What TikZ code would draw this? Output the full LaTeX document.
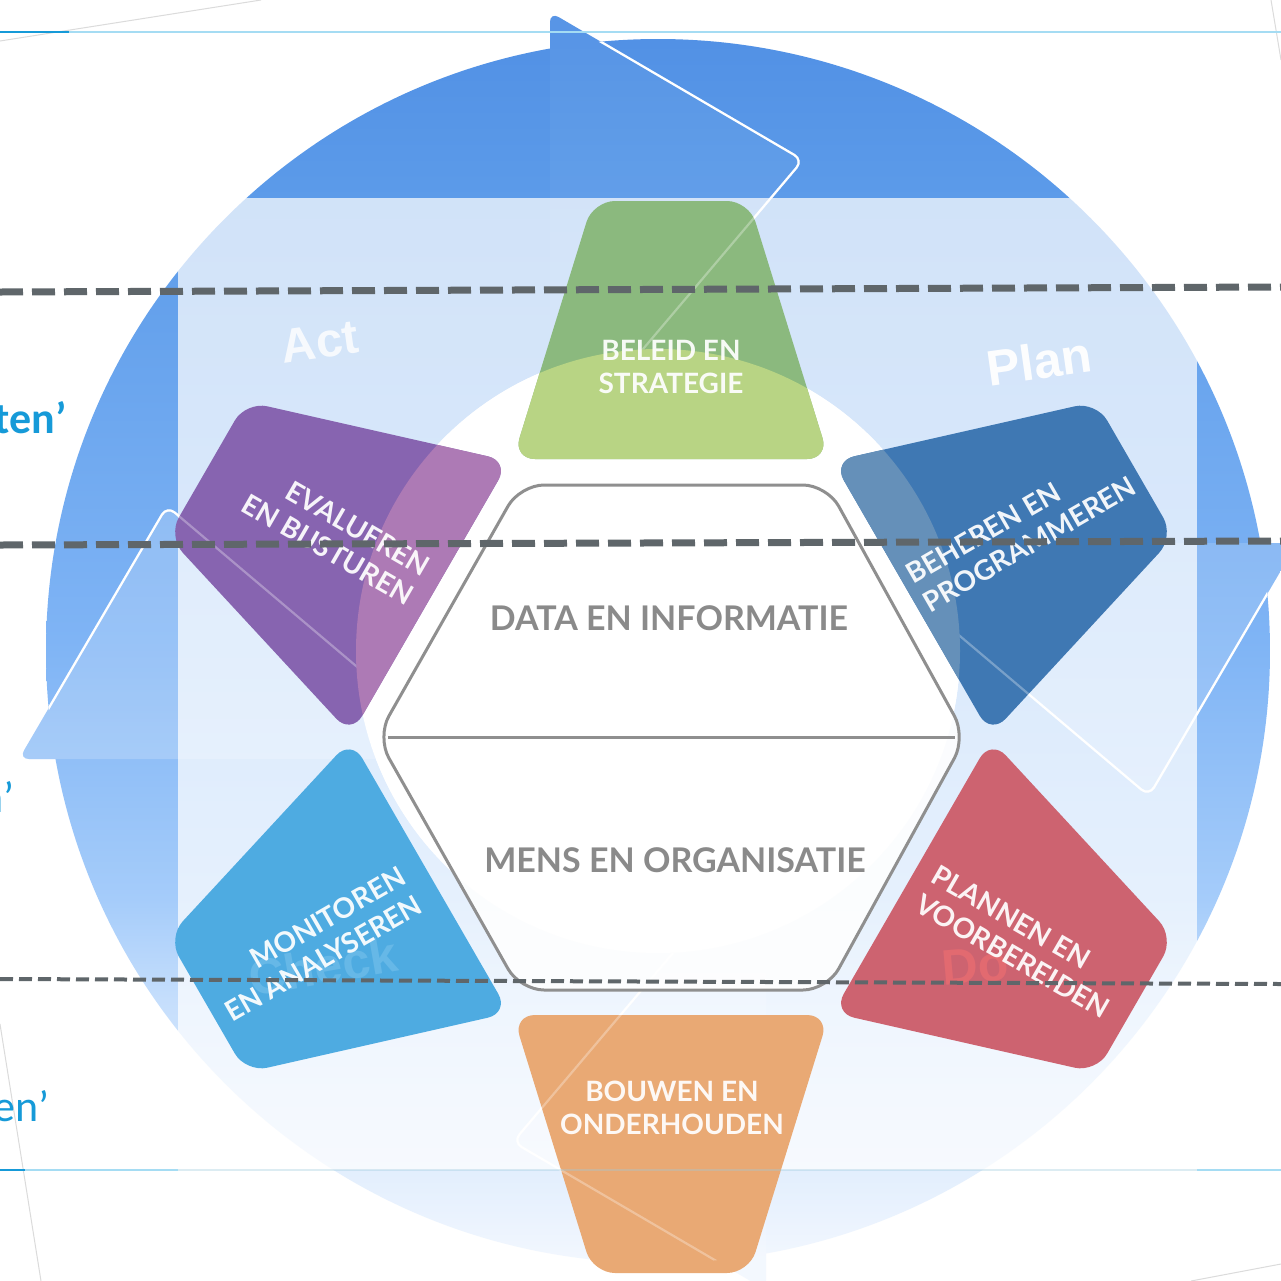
\documentclass[tikz,border=0pt]{standalone}
\usepackage{fontspec}
\setmainfont{Lato}
\newfontfamily\arialf{Liberation Sans}
\newfontfamily\calibf{Carlito}
\usetikzlibrary{calc}
\definecolor{r1}{RGB}{82,145,229}
\definecolor{r2}{RGB}{92,155,233}
\definecolor{r3}{RGB}{127,180,245}
\definecolor{r4}{RGB}{165,204,250}
\definecolor{r5}{RGB}{197,222,252}
\definecolor{r6}{RGB}{242,247,254}
\pgfdeclareverticalshading{ringshade}{100bp}{color(0bp)=(r6); color(25.8bp)=(r6); color(36bp)=(r5); color(39.9bp)=(r4); color(50bp)=(r3); color(67.2bp)=(r2); color(73.4bp)=(r1); color(100bp)=(r1)}
\definecolor{gdark}{RGB}{139,185,126}
\definecolor{glight}{RGB}{184,212,132}
\definecolor{bdark}{RGB}{63,120,179}
\definecolor{blight}{RGB}{101,144,185}
\definecolor{pdark}{RGB}{135,100,176}
\definecolor{plight}{RGB}{173,122,181}
\definecolor{pred}{RGB}{205,99,112}
\definecolor{porange}{RGB}{233,169,116}
\definecolor{plblue}{RGB}{78,171,225}
\definecolor{hexgray}{RGB}{138,138,138}
\definecolor{hexline}{RGB}{143,143,143}
\definecolor{dashgray}{RGB}{95,102,106}
\definecolor{sideblue}{RGB}{22,154,216}
\definecolor{lineblue}{RGB}{165,220,243}
\definecolor{checkc}{RGB}{102,184,231}
\definecolor{doc}{RGB}{226,106,112}
\newcommand\petal[3]{%
\begin{scope}[rotate around={#1:(671,737)}]
  \begin{scope}[rounded corners=11pt]
    \clip (593,201) -- (749,201) -- (829,459) -- (513,459) -- cycle;
    \fill[#2, sharp corners] (480,180) rectangle (860,480);
    \fill[#3, rotate around={0-(#1):(671,737)}] (658,651) circle[radius=302];
  \end{scope}
\end{scope}}
\newcommand\ringclip{\clip (658,651) circle[radius=612] (658,651) circle[radius=302];}
\newcommand\arrowoutlines{%
  \draw[arrowline] (550,12) -- (803,160) -- (550,459);
  \draw[arrowline] (1297,543) -- (1149,796) -- (850,543);
  \draw[arrowline] (766,1290) -- (513,1142) -- (766,843);
  \draw[arrowline] (19,759) -- (167,506) -- (466,759);}
\begin{document}
\begin{tikzpicture}[x=0.5pt,y=-0.5pt,
  lbl/.style={text=white, text opacity=0.93, font=\bfseries\fontsize{14}{16.5}\selectfont, inner sep=0pt},
  hexlbl/.style={text=hexgray, font=\bfseries\fontsize{17}{20}\selectfont, inner sep=0pt},
  pdca/.style={font=\arialf\bfseries\fontsize{24}{24}\selectfont, inner sep=0pt},
  sidelbl/.style={text=sideblue, inner sep=0pt, anchor=base east},
  dashthick/.style={draw=dashgray, line width=3.5pt, dash pattern=on 11.5pt off 4.5pt},
  dashthin/.style={draw=dashgray, line width=2pt, dash pattern=on 6.5pt off 3pt},
  arrowline/.style={draw=white, line width=1.1pt, rounded corners=5pt},
  faintline/.style={draw=black!14, line width=0.5pt}]

\useasboundingbox (0,0) rectangle (1281,1281);
\clip (0,0) rectangle (1281,1281);
\fill[white] (0,0) rectangle (1281,1281);

% faint frame edges
\coordinate (f1) at (0,41);   \coordinate (f2) at (261,0);
\coordinate (f3) at (1271,0); \coordinate (f4) at (1281,60);
\coordinate (f5) at (0,1024); \coordinate (f6) at (41,1281);
\coordinate (f7) at (1191,1281); \coordinate (f8) at (1281,1264);
\draw[faintline] (f1) -- (f2);
\draw[faintline] (f3) -- (f4);
\draw[faintline] (f5) -- (f6);
\draw[faintline] (f7) -- (f8);

% ring
\begin{scope}[even odd rule]
  \ringclip
  \shade[shading=ringshade] (0,0) rectangle (1281,1281);
\end{scope}
% arrowheads
\begin{scope}[rounded corners=5pt]
  \clip (550,12) -- (803,160) -- (550,459) -- cycle;
  \shade[shading=ringshade, sharp corners] (0,0) rectangle (1281,1281);
  \fill[white, opacity=0.04, sharp corners] (0,0) rectangle (1281,1281);
\end{scope}
\begin{scope}[rounded corners=5pt]
  \clip (1297,543) -- (1149,796) -- (850,543) -- cycle;
  \shade[shading=ringshade, sharp corners] (0,0) rectangle (1281,1281);
  \fill[white, opacity=0.15, sharp corners] (0,0) rectangle (1281,1281);
\end{scope}
\begin{scope}[rounded corners=5pt]
  \clip (766,1290) -- (513,1142) -- (766,843) -- cycle;
  \shade[shading=ringshade, sharp corners] (0,0) rectangle (1281,1281);
  \fill[white, opacity=0.15, sharp corners] (0,0) rectangle (1281,1281);
\end{scope}
\begin{scope}[rounded corners=5pt]
  \clip (19,759) -- (167,506) -- (466,759) -- cycle;
  \shade[shading=ringshade, sharp corners] (0,0) rectangle (1281,1281);
  \fill[white, opacity=0.2, sharp corners] (0,0) rectangle (1281,1281);
\end{scope}
\begin{scope}[even odd rule]
  \ringclip
  \arrowoutlines
\end{scope}

% inner white disc
\fill[white] (658,651) circle[radius=302];

% thin top line
\coordinate (tl1) at (0,32); \coordinate (tl2) at (1281,32); \coordinate (tl3) at (69,32);
\draw[draw=lineblue, line width=1pt] (tl1) -- (tl2);
\draw[draw=sideblue, line width=1.2pt] (tl1) -- (tl3);

% translucent panel
\fill[white, opacity=0.72] (178,198) rectangle (1197,1170);

% PDCA words
\node[pdca, text=white, text opacity=0.8, rotate=8] (tAct) at (320,342) {Act};
\node[pdca, text=white, text opacity=0.95, rotate=8, font=\arialf\bfseries\fontsize{25}{25}\selectfont] (tPlan) at (1039,361) {Plan};

% petals
\petal{0}{gdark}{glight}
\petal{-60}{bdark}{blight}
\petal{-120}{pred}{pred}
\petal{180}{porange}{porange}
\petal{120}{plblue}{plblue}
\petal{60}{pdark}{plight}

% faint outlines over petals
\begin{scope}[opacity=0.3, even odd rule]
  \ringclip
  \arrowoutlines
\end{scope}

% faint PDCA words under labels
\node[pdca, text=checkc, rotate=10, font=\arialf\bfseries\fontsize{25}{25}\selectfont] (tCheck) at (323,966) {Check};
\node[pdca, text=doc, rotate=5, font=\arialf\bfseries\fontsize{25}{25}\selectfont] (tDo) at (975,966) {Do};

% petal labels
\node[lbl, align=center] (tBel) at (671,367) {BELEID EN\\STRATEGIE};
\node[lbl, align=left, rotate=30] (tBeh) at (1021,530) {BEHEREN EN\\PROGRAMMEREN};
\node[lbl, align=left, rotate=-30] (tPla) at (1021,942) {PLANNEN EN\\VOORBEREIDEN};
\node[lbl, align=center] (tBou) at (672,1108) {BOUWEN EN\\ONDERHOUDEN};
\node[lbl, align=right, rotate=30] (tMon) at (315,944) {MONITOREN\\EN ANALYSEREN};
\node[lbl, align=right, rotate=-30] (tEva) at (336,535) {EVALUEREN\\EN BIJSTUREN};

% bottom thin line
\coordinate (bl1) at (0,1170); \coordinate (bl2) at (178,1170); \coordinate (bl3) at (1197,1170);
\coordinate (bl4) at (1281,1170); \coordinate (bl5) at (25,1170);
\draw[draw=lineblue, line width=1pt] (bl1) -- (bl2);
\draw[draw=lineblue, line width=1pt] (bl3) -- (bl4);
\draw[draw=lineblue!80!gray, line width=1pt, opacity=0.35] (bl2) -- (bl3);
\draw[draw=sideblue, line width=1.2pt] (bl1) -- (bl5);

% central hexagon
\coordinate (hL) at (377,737); \coordinate (hTL) at (520,485); \coordinate (hTR) at (827,485);
\coordinate (hR) at (966,737); \coordinate (hBR) at (827,990); \coordinate (hBL) at (520,990);
\coordinate (hML) at (388,737); \coordinate (hMR) at (955,737);
\draw[draw=hexline, line width=1.5pt, fill=white, fill opacity=0.88, rounded corners=12pt]
  (hL) -- (hTL) -- (hTR) -- (hR) -- (hBR) -- (hBL) -- cycle;
\draw[draw=hexline, line width=1.5pt] (hML) -- (hMR);
\node[hexlbl] (tData) at (669,618) {DATA EN INFORMATIE};
\node[hexlbl] (tMens) at (675,860) {MENS EN ORGANISATIE};

% dashed lines
\coordinate (d1a) at (0,292);  \coordinate (d1b) at (1281,287);
\coordinate (d2a) at (0,545);  \coordinate (d2b) at (1281,541);
\coordinate (d3a) at (0,979);  \coordinate (d3b) at (1281,984);
\draw[dashthick] (d1a) -- (d1b);
\draw[dashthick] (d2a) -- (d2b);
\draw[dashthin] (d3a) -- (d3b);

% cut-off side labels
\node[sidelbl, font=\calibf\bfseries\fontsize{22}{22}\selectfont] (sTen) at (67,433) {ten’};
\node[sidelbl, font=\calibf\fontsize{22}{22}\selectfont] (sN) at (15,812) {n’};
\node[sidelbl, font=\calibf\fontsize{22}{22}\selectfont] (sEn) at (50,1121) {en’};
\end{tikzpicture}
\end{document}
